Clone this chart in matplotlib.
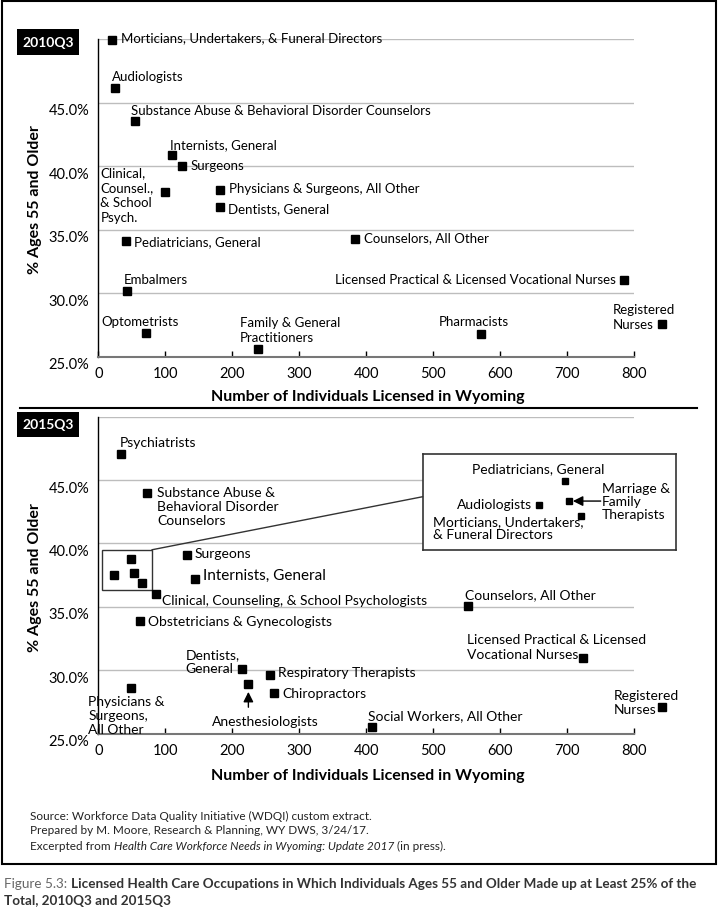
import matplotlib
matplotlib.use("Agg")
import matplotlib.pyplot as plt
from matplotlib.patches import Rectangle, ConnectionPatch
from matplotlib.lines import Line2D
from matplotlib.transforms import ScaledTranslation

W, H = 719, 912
NARROW = ['Liberation Sans Narrow', 'Lato', 'DejaVu Sans']
REGULAR = ['Lato', 'DejaVu Sans']

# ---- 2010Q3 ----
top_names = ["Morticians, Undertakers, & Funeral Directors", "Audiologists",
             "Substance Abuse & Behavioral Disorder Counselors", "Internists, General",
             "Surgeons", "Clinical, Counseling, & School Psychologists",
             "Physicians & Surgeons, All Other", "Dentists, General",
             "Pediatricians, General", "Counselors, All Other", "Embalmers",
             "Licensed Practical & Licensed Vocational Nurses", "Optometrists",
             "Family & General Practitioners", "Pharmacists", "Registered Nurses"]
top_labels = ["Morticians, Undertakers, & Funeral Directors", "Audiologists",
              "Substance Abuse & Behavioral Disorder Counselors", "Internists, General",
              "Surgeons", "Clinical,\nCounsel.,\n& School\nPsych.",
              "Physicians & Surgeons, All Other", "Dentists, General",
              "Pediatricians, General", "Counselors, All Other", "Embalmers",
              "Licensed Practical & Licensed Vocational Nurses", "Optometrists",
              "Family & General\nPractitioners", "Pharmacists", "Registered\nNurses"]
top_count = [20, 25, 55, 110, 125, 100, 181, 182, 41, 383, 43, 784, 71, 238, 571, 841]
top_pct = [49.95, 46.15, 43.6, 40.9, 40.0, 38.0, 38.1, 36.8, 34.1, 34.3, 30.2, 31.05,
           26.85, 25.6, 26.8, 27.6]

# ---- 2015Q3 ----
bot_names = ["Psychiatrists", "Substance Abuse & Behavioral Disorder Counselors",
             "Surgeons", "Internists, General",
             "Clinical, Counseling, & School Psychologists",
             "Obstetricians & Gynecologists", "Counselors, All Other",
             "Licensed Practical & Licensed Vocational Nurses", "Dentists, General",
             "Anesthesiologists", "Respiratory Therapists", "Chiropractors",
             "Physicians & Surgeons, All Other", "Social Workers, All Other",
             "Registered Nurses", "Pediatricians, General", "Audiologists",
             "Marriage & Family Therapists",
             "Morticians, Undertakers, & Funeral Directors"]
bot_labels = ["Psychiatrists", "Substance Abuse &\nBehavioral Disorder\nCounselors",
              "Surgeons", "Internists, General",
              "Clinical, Counseling, & School Psychologists",
              "Obstetricians & Gynecologists", "Counselors, All Other",
              "Licensed Practical & Licensed\nVocational Nurses", "Dentists,\nGeneral",
              None, "Respiratory Therapists", "Chiropractors",
              "Physicians &\nSurgeons,\nAll Other", "Social Workers, All Other",
              "Registered\nNurses", None, None, None, None]
bot_count = [34, 73, 133, 145, 86, 62, 552, 724, 215, 224, 257, 262, 49, 408, 842,
             49, 23, 53, 65]
bot_pct = [47.05, 43.95, 39.1, 37.2, 36.0, 33.9, 35.1, 31.0, 30.1, 28.9, 29.6, 28.2,
           28.6, 25.5, 27.1, 38.8, 37.5, 37.7, 36.9]

# points shown enlarged in the call-out box
inset_names = ["Pediatricians, General", "Audiologists", "Marriage & Family Therapists",
               "Morticians, Undertakers, & Funeral Directors"]
inset_labels = ["Pediatricians, General", "Audiologists", "Marriage &\nFamily\nTherapists",
                "Morticians, Undertakers,\n& Funeral Directors"]

yticks = [25, 30, 35, 40, 45, 50]
ytick_labels = ["25.0%", "30.0%", "35.0%", "40.0%", "45.0%", ""]
xticks = [0, 100, 200, 300, 400, 500, 600, 700, 800]

# label placement (pixel offsets from the marker)
top_place = [(9, 3, 'left'), (-3, 12, 'left'), (-4, 11, 'left'), (-2, 11, 'left'),
             (8, 1, 'left'), (-65, -3, 'left'), (9, 2, 'left'), (8, -1, 'left'),
             (8, 0, 'left'), (9, 1, 'left'), (-3, 12, 'left'), (-8, 1, 'right'),
             (-6, 12, 'center'), (-18, 20, 'left'), (-7, 13, 'center'),
             (-49, 7, 'left')]
bot_place = [(-1, 12, 'left'), (10, 14, 'left'), (7, 2, 'left'), (8, 4, 'left'),
             (6, -6, 'left'), (8, 0, 'left'), (-3, 11, 'left'), (-116, 11, 'left'),
             (-57, 8, 'left'), None, (8, 3, 'left'), (9, 0, 'left'),
             (-43, -27, 'left'), (-4, 12, 'left'), (-49, 5, 'left'),
             None, None, None, None]
inset_place = [(-27, 13, 'center'), (-7, 1, 'right'), (33, 0, 'left'),
               (-148, -12, 'left')]


def fx(px):
    return px / W


def fy(py):
    return 1 - py / H


def style_axes(ax):
    ax.set_xlim(0, 800)
    ax.set_ylim(25, 50)
    ax.set_yticks(yticks)
    ax.set_yticklabels(ytick_labels, family=NARROW, fontsize=10.5)
    ax.set_xticks(xticks)
    ax.set_xticklabels([str(t) for t in xticks], family=NARROW, fontsize=10.5)
    ax.grid(axis='y', color='#bdbdbd', lw=1)
    ax.set_axisbelow(True)
    for s in ['top', 'right']:
        ax.spines[s].set_visible(False)
    ax.spines['left'].set_color('black')
    ax.spines['left'].set_linewidth(1)
    ax.spines['bottom'].set_color('#777777')
    ax.spines['bottom'].set_linewidth(1.5)
    ax.tick_params(axis='x', direction='in', length=4.5, width=1, color='black', pad=7)
    ax.tick_params(axis='y', length=0, pad=6.5)
    off = ScaledTranslation(0, -6 / 100, fig.dpi_scale_trans)
    for lab in ax.get_yticklabels():
        lab.set_transform(lab.get_transform() + off)


def label_points(ax, xs, ys, labels, place, family, size, ls=1.2):
    for x, y, lab, p in zip(xs, ys, labels, place):
        if lab is None or p is None:
            continue
        dx, dy, ha = p
        ax.annotate(lab, (x, y), xytext=(dx, dy), textcoords='offset pixels',
                    ha=ha, va='center', family=family, fontsize=size,
                    linespacing=ls, annotation_clip=False)


fig = plt.figure(figsize=(W / 100, H / 100), dpi=100)

ax1 = fig.add_axes([fx(98.3), fy(357.7), fx(536), 317.4 / H])
ax2 = fig.add_axes([fx(98.3), fy(734.7), fx(536), 317.1 / H])

for ax in (ax1, ax2):
    style_axes(ax)

ax1.plot(top_count, top_pct, 's', color='black', ms=6, clip_on=False, zorder=3)
label_points(ax1, top_count, top_pct, top_labels, top_place, REGULAR, 9.5, 1.3)

ax2.plot(bot_count, bot_pct, 's', color='black', ms=6, clip_on=False, zorder=3)
for x, y, lab, p, nm in zip(bot_count, bot_pct, bot_labels, bot_place, bot_names):
    if lab is None:
        continue
    dx, dy, ha = p
    fs = 11 if nm == "Internists, General" else 10
    ls = 1.35 if nm.startswith("Licensed") else 1.2
    va = 'top' if nm.startswith("Substance") else 'center'
    ax2.annotate(lab, (x, y), xytext=(dx, dy if va == 'center' else 7),
                 textcoords='offset pixels', ha=ha, va=va, family=NARROW,
                 fontsize=fs, linespacing=ls, annotation_clip=False)

# Anesthesiologists: text under the point with an upward arrow
i_an = bot_names.index("Anesthesiologists")
ax2.annotate("Anesthesiologists", (bot_count[i_an], bot_pct[i_an]), xytext=(17, -37),
             textcoords='offset pixels', ha='center', va='center', family=NARROW,
             fontsize=10, annotation_clip=False)
ax2.annotate("", (bot_count[i_an], bot_pct[i_an]), xytext=(0, -23),
             textcoords='offset pixels',
             arrowprops=dict(arrowstyle='-|>,head_length=0.6,head_width=0.3',
                             color='black', lw=1, shrinkA=0, shrinkB=5.5))

# small box around the crowded points + enlarged call-out
ax2.add_patch(Rectangle((6, 36.3), 74, 3.2, fill=False, ec='#333333', lw=1, zorder=2))

axi = fig.add_axes([fx(422.7), fy(550.7), fx(253.3), 96 / H])
axi.set_xlim(-93, 160.3)
axi.set_ylim(35.03, 40.3)
axi.set_xticks([])
axi.set_yticks([])
for s in axi.spines.values():
    s.set_color('#333333')
    s.set_linewidth(1.2)
idx = [bot_names.index(n) for n in inset_names]
ix = [bot_count[i] for i in idx]
iy = [bot_pct[i] for i in idx]
axi.plot(ix, iy, 's', color='black', ms=4.5)
label_points(axi, ix, iy, inset_labels, inset_place, NARROW, 10, 1.1)
i_mf = inset_names.index("Marriage & Family Therapists")
axi.annotate("", (ix[i_mf], iy[i_mf]), xytext=(32, 0), textcoords='offset pixels',
             arrowprops=dict(arrowstyle='-|>,head_length=0.6,head_width=0.3',
                             color='black', lw=1, shrinkA=0, shrinkB=3))

con = ConnectionPatch(xyA=(80, 39.5), coordsA=ax2.transData,
                      xyB=(0, 0.552), coordsB=axi.transAxes, color='#333333', lw=1)
fig.add_artist(con)

# axis titles
for yc in (397, 776):
    fig.text(fx(368), fy(yc), "Number of Individuals Licensed in Wyoming", ha='center',
             va='center', family=NARROW, fontsize=11.5, fontweight='bold')
for yc in (200, 578):
    fig.text(fx(35), fy(yc), "% Ages 55 and Older", ha='center', va='center',
             rotation=90, family=REGULAR, fontsize=11.5, fontweight='bold')

# panel tags
for (y0, y1, txt) in [(30, 56, "2010Q3"), (413, 438, "2015Q3")]:
    fig.add_artist(Rectangle((fx(17), fy(y1)), fx(62), (y1 - y0) / H,
                             transform=fig.transFigure, fc='black', ec='none'))
    fig.text(fx(48), fy((y0 + y1) / 2), txt, color='white', ha='center', va='center',
             family=REGULAR, fontsize=10, fontweight='bold')

# frame and separator
fig.add_artist(Line2D([fx(20), fx(697)], [fy(409), fy(409)], transform=fig.transFigure,
                      color='black', lw=1.5))
fig.add_artist(Rectangle((fx(2), fy(865)), fx(714), 863 / H, transform=fig.transFigure,
                         fill=False, ec='black', lw=1.5))

renderer = fig.canvas.get_renderer()


def run_text(x, y, parts):
    """Draw pieces of text one after another on one line."""
    for txt, kw in parts:
        t = fig.text(x, y, txt, va='center', ha='left', **kw)
        bb = t.get_window_extent(renderer)
        x += bb.width / W


src_kw = dict(family=NARROW, fontsize=8.5, color='#222222')
fig.text(fx(30), fy(816), "Source: Workforce Data Quality Initiative (WDQI) custom extract.",
         va='center', **src_kw)
fig.text(fx(30), fy(831), "Prepared by M. Moore, Research & Planning, WY DWS, 3/24/17.",
         va='center', **src_kw)
run_text(fx(30), fy(846), [
    ("Excerpted from\u00a0", src_kw),
    ("Health Care Workforce Needs in Wyoming: Update 2017", dict(src_kw, style='italic')),
    ("\u00a0(in press).", src_kw)])

cap_kw = dict(family=NARROW, fontsize=9.7, color='#333333', fontweight='bold')
run_text(fx(4), fy(884), [
    ("Figure 5.3:\u00a0", dict(family=NARROW, fontsize=9.7, color='#666666')),
    ("Licensed Health Care Occupations in Which Individuals Ages 55 and Older Made up at Least 25% of the",
     cap_kw)])
fig.text(fx(4), fy(901), "Total, 2010Q3 and 2015Q3", va='center', **cap_kw)

fig.savefig("out.png", dpi=100, facecolor='white')
